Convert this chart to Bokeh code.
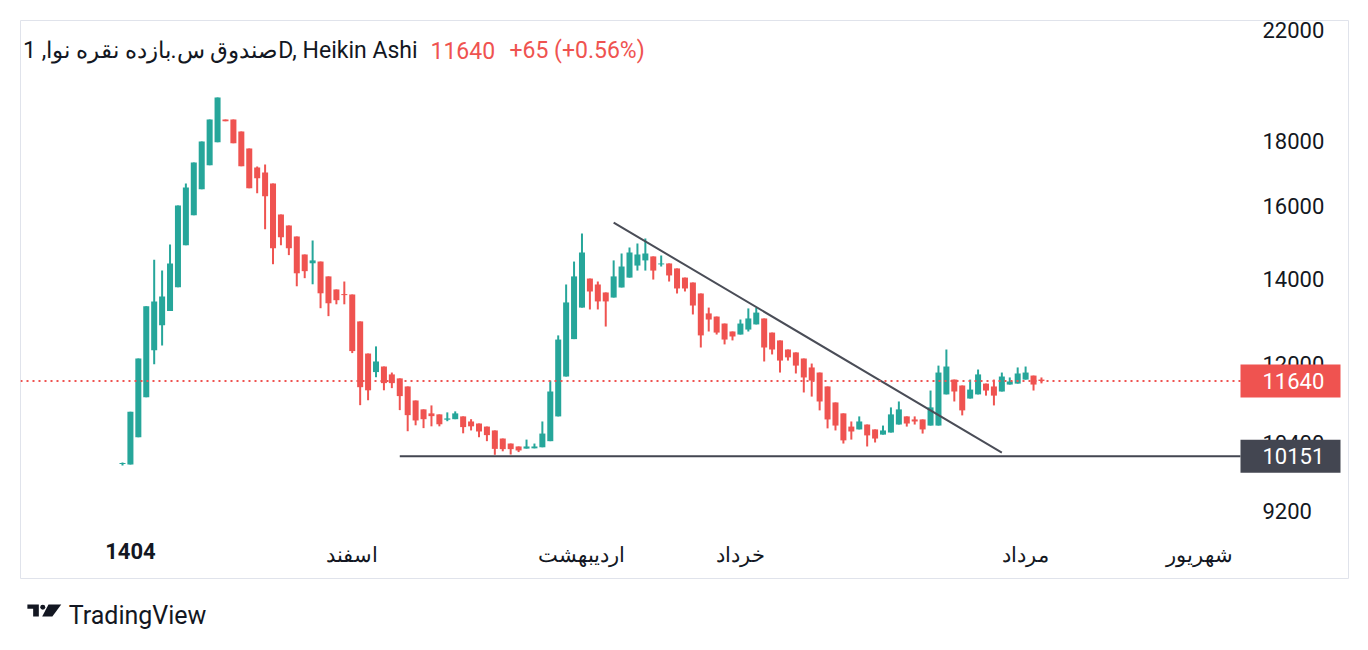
from bokeh.plotting import figure
from bokeh.models import (Range1d, LogAxis, LinearAxis, FixedTicker,
                          NumeralTickFormatter, Label, ColumnDataSource)
from bokeh.layouts import column
from bokeh.embed import file_html
from bokeh.resources import INLINE
from bokeh.core.properties import value

# ---------------- data (daily Heikin Ashi candles) ----------------
OPEN = [10010, 10000, 10510, 11300, 12310, 12880, 13215, 13800, 14895, 15730,
        16490, 17225, 17960, 18715, 18715, 18310, 17755, 17155, 17000, 16660,
        15750, 15440, 15135, 14645, 14415, 14460, 14075, 13745, 13630, 13620,
        12970, 12235, 11830, 11950, 11780, 11695, 11525, 11235, 11055, 10975,
        10955, 10850, 10860, 10915, 10815, 10775, 10715, 10640, 10485, 10390,
        10335, 10295, 10300, 10320, 10435, 10915, 11735, 12560, 13300, 14020,
        13870, 13670, 13545, 13795, 14045, 14355, 14490, 14595, 14385, 14410,
        14280, 14045, 13920, 13645, 13160, 13085, 12920, 12735, 12665, 12780,
        12900, 13040, 12710, 12530, 12325, 12260, 12125, 11930, 11820, 11525,
        11195, 10975, 10715, 10660, 10755, 10660, 10560, 10600, 10755, 10915,
        10855, 10855, 10735, 10735, 11360, 11670, 11545, 11275, 11360, 11585,
        11525, 11420, 11565, 11585, 11670, 11755, 11670]
HIGH = [10040, 11010, 12125, 13330, 14510, 14230, 14915, 16010, 16660, 17310,
        17985, 18715, 19480, 18715, 18715, 18310, 17755, 17185, 17245, 16660,
        15750, 15440, 15135, 14645, 15025, 14460, 14075, 13745, 13945, 13620,
        12970, 12235, 12395, 11950, 11820, 11695, 11525, 11235, 11055, 11135,
        10955, 10995, 11015, 10915, 10860, 10775, 10715, 10640, 10485, 10390,
        10335, 10465, 10390, 10815, 11650, 12645, 13870, 14460, 15215, 14020,
        13945, 13670, 14490, 14675, 14835, 14940, 15080, 14595, 14620, 14410,
        14280, 14045, 13920, 13645, 13300, 13085, 12920, 12735, 13015, 13280,
        13300, 13040, 12710, 12530, 12325, 12260, 12125, 12015, 11820, 11525,
        11195, 10975, 10815, 10915, 10755, 10660, 10735, 11095, 11215, 10915,
        10915, 10855, 11440, 11970, 12325, 11670, 11545, 11670, 11885, 11585,
        11670, 11820, 11715, 11930, 11950, 11755, 11715]
LOW = [9985, 10000, 10510, 11300, 12000, 12415, 13215, 13800, 14895, 15730,
       16490, 17225, 17960, 18660, 17930, 17195, 16520, 16370, 15335, 14390,
       14895, 14630, 13825, 14030, 13875, 13285, 13095, 13380, 13380, 12245,
       11140, 11240, 11720, 11445, 11490, 11040, 10625, 10740, 10685, 10720,
       10720, 10820, 10860, 10585, 10640, 10510, 10435, 10180, 10245, 10185,
       10230, 10295, 10300, 10320, 10435, 10915, 11735, 12560, 13300, 13255,
       13255, 12850, 13545, 13795, 14045, 14225, 14225, 13995, 14330, 13945,
       13645, 13695, 13135, 12370, 12735, 12665, 12440, 12530, 12665, 12735,
       12900, 12060, 12215, 11820, 12080, 11800, 11400, 11315, 11035, 10680,
       10640, 10390, 10465, 10660, 10335, 10410, 10560, 10600, 10755, 10715,
       10755, 10580, 10735, 10735, 11360, 11215, 10935, 11275, 11360, 11335,
       11135, 11420, 11565, 11585, 11670, 11440, 11590]
CLOSE = [10030, 11010, 12125, 13330, 13450, 13570, 14410, 16010, 16540, 17310,
         17985, 18715, 19480, 18660, 17930, 17195, 16520, 16825, 16280, 14815,
         15115, 14815, 14155, 14210, 14490, 13650, 13405, 13480, 13605, 12290,
         11510, 11445, 12060, 11595, 11595, 11325, 10940, 10835, 10860, 10920,
         10760, 10875, 10975, 10705, 10720, 10620, 10550, 10290, 10285, 10285,
         10260, 10335, 10335, 10580, 11420, 12550, 13425, 14075, 14700, 13695,
         13450, 13450, 14075, 14330, 14700, 14645, 14675, 14225, 14410, 14100,
         13770, 13770, 13350, 12645, 13015, 12710, 12550, 12620, 12920, 13040,
         13180, 12370, 12325, 12080, 12150, 11970, 11715, 11650, 11215, 10855,
         10735, 10450, 10620, 10815, 10545, 10485, 10640, 10955, 11055, 10775,
         10815, 10660, 11095, 11820, 11950, 11420, 11035, 11460, 11780, 11440,
         11335, 11735, 11630, 11800, 11820, 11565, 11640]

PRICE_TICKS = [9200, 10400, 12000, 14000, 16000, 18000, 22000]
YEAR_TICKS = [1]
YEAR_LABELS = ["1404"]
MONTH_TICKS = [29, 58, 78, 114, 136]
MONTH_LABELS = ["اسفند", "اردیبهشت", "خرداد", "مرداد", "شهریور"]

LAST_PRICE = 11640
SUPPORT_PRICE = 10151
SUPPORT_START = [35]
TREND_X = [62, 111]
TREND_Y = [15520, 10220]

TITLE = "صندوق س.بازده نقره نوا, 1D, Heikin Ashi"
LAST_TEXT = "11640"
CHANGE_TEXT = "+65 (+0.56%)"

# ---------------- styling / layout ----------------
GREEN = "#26a69a"
RED = "#ef5350"
DARK = "#434651"
TEXT = "#131722"
FONT = "Roboto"

X0_PX = 122.0      # page x of first candle
STEP_PX = 7.922    # candle spacing in px


def px_to_idx(px):
    return (px - X0_PX) / STEP_PX


AXIS_IDX = px_to_idx(1240)      # where the price scale begins
BOX_IDX = px_to_idx(1290)       # centre of the price label boxes
BOX_TXT_IDX = px_to_idx(1262)   # left of price label text

n = len(OPEN)
idx = list(range(n))
colors = [GREEN if c >= o else RED for o, c in zip(OPEN, CLOSE)]
src = ColumnDataSource(dict(
    x=idx, open=OPEN, high=HIGH, low=LOW, close=CLOSE,
    top=[max(o, c) for o, c in zip(OPEN, CLOSE)],
    bottom=[min(o, c) for o, c in zip(OPEN, CLOSE)],
    color=colors))

p = figure(width=1360, height=586,
           x_range=Range1d(px_to_idx(20), px_to_idx(1348)),
           y_range=Range1d(8131.4, 22403), y_axis_type="log",
           x_axis_location=None, y_axis_location=None,
           toolbar_location=None, output_backend="svg", title=None,
           min_border_left=20, min_border_right=12,
           min_border_top=20, min_border_bottom=8,
           outline_line_color="#e0e3eb", outline_line_width=1,
           background_fill_color="white", border_fill_color="white")
p.xgrid.visible = False
p.ygrid.visible = False

# candles
p.segment(x0="x", y0="low", x1="x", y1="high", source=src,
          line_color="color", line_width=2)
p.vbar(x="x", width=0.76, top="top", bottom="bottom", source=src,
       fill_color="color", line_color=None)

# drawings
p.line(TREND_X, TREND_Y, line_color="#4a4d57", line_width=2)
p.segment(x0=SUPPORT_START, y0=[SUPPORT_PRICE], x1=[AXIS_IDX], y1=[SUPPORT_PRICE],
          line_color=DARK, line_width=2)
p.segment(x0=[px_to_idx(20)], y0=[LAST_PRICE], x1=[AXIS_IDX], y1=[LAST_PRICE],
          line_color=RED, line_width=2, line_dash="2 4")

# price scale on the right
yax = LogAxis(fixed_location=AXIS_IDX, ticker=FixedTicker(ticks=PRICE_TICKS),
              formatter=NumeralTickFormatter(format="0"),
              axis_line_color=None, major_tick_line_color=None,
              minor_tick_line_color=None, major_tick_out=0, major_tick_in=0,
              major_label_standoff=22, major_label_text_font=FONT,
              major_label_text_font_size="22px", major_label_text_color=TEXT)
p.add_layout(yax, "right")

# time scale
XAXIS_PRICE = 8872
mon_ax = LinearAxis(fixed_location=XAXIS_PRICE,
                    ticker=FixedTicker(ticks=MONTH_TICKS),
                    major_label_overrides=dict(zip(MONTH_TICKS, MONTH_LABELS)),
                    axis_line_color=None, major_tick_line_color=None,
                    minor_tick_line_color=None, major_tick_out=0, major_tick_in=0,
                    major_label_standoff=12, major_label_text_font=FONT,
                    major_label_text_font_size="21px", major_label_text_color=TEXT)
p.add_layout(mon_ax, "below")
yr_ax = LinearAxis(fixed_location=XAXIS_PRICE,
                   ticker=FixedTicker(ticks=YEAR_TICKS),
                   major_label_overrides=dict(zip(YEAR_TICKS, YEAR_LABELS)),
                   axis_line_color=None, major_tick_line_color=None,
                   minor_tick_line_color=None, major_tick_out=0, major_tick_in=0,
                   major_label_standoff=12, major_label_text_font=FONT,
                   major_label_text_font_style="bold",
                   major_label_text_font_size="22px", major_label_text_color=TEXT)
p.add_layout(yr_ax, "below")

# price label boxes
p.rect(x=[BOX_IDX, BOX_IDX], y=[LAST_PRICE, SUPPORT_PRICE], width=100, height=33,
       width_units="screen", height_units="screen",
       fill_color=[RED, DARK], line_color=None, level="overlay")
p.text(x=[BOX_TXT_IDX, BOX_TXT_IDX], y=[LAST_PRICE, SUPPORT_PRICE],
       text=[str(LAST_PRICE), str(SUPPORT_PRICE)], text_color="white",
       text_font=value(FONT), text_font_size="22px",
       text_baseline="middle", text_align="left", level="overlay")

# legend header
p.add_layout(Label(x=397, y=528, x_units="screen", y_units="screen", text=TITLE,
                   text_align="right", text_baseline="middle", text_font=FONT,
                   text_font_size="23px", text_color=TEXT))
p.add_layout(Label(x=410, y=528, x_units="screen", y_units="screen", text=LAST_TEXT,
                   text_align="left", text_baseline="middle", text_font=FONT,
                   text_font_size="23px", text_color=RED))
p.add_layout(Label(x=489, y=528, x_units="screen", y_units="screen", text=CHANGE_TEXT,
                   text_align="left", text_baseline="middle", text_font=FONT,
                   text_font_size="23px", text_color=RED))

# ---------------- TradingView mark ----------------
q = figure(width=230, height=50, x_range=Range1d(0, 230), y_range=Range1d(636, 586),
           x_axis_location=None, y_axis_location=None, toolbar_location=None,
           output_backend="svg", title=None, min_border=0,
           outline_line_color=None, background_fill_color="white",
           border_fill_color="white")
q.xgrid.visible = False
q.ygrid.visible = False
q.patch([8, 21.3, 21.3, 14.7, 14.7, 8], [604, 604, 616, 616, 608.3, 608.3],
        fill_color=TEXT, line_color=None)
q.circle(x=[25.9], y=[606.8], radius=2.9, fill_color=TEXT, line_color=None)
q.patch([32.5, 47.3, 37.0, 25.2], [604, 604, 616, 616], fill_color=TEXT, line_color=None)
q.text(x=[56], y=[614.5], text=["TradingView"], text_font=value(FONT),
       text_font_size="25px", text_baseline="middle", text_color=TEXT)

layout = column(p, q)
open("out.html", "w").write(file_html(layout, INLINE))
